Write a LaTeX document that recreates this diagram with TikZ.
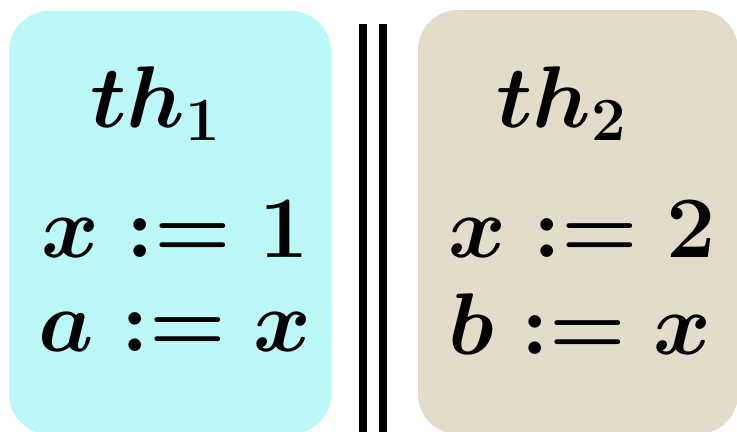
\RequirePackage{fix-cm}
\documentclass[tikz,border=0pt]{standalone}
\definecolor{boxcyan}{HTML}{BDF8F8}
\definecolor{boxbeige}{HTML}{E3DCCB}
\tikzset{
  panel/.style={rounded corners=40bp},
  sepline/.style={fill=black},
  code/.style={anchor=base west, inner sep=0pt, font=\fontsize{88}{100}\selectfont\boldmath}
}
\begin{document}
\begin{tikzpicture}[x=1bp,y=-1bp]
\useasboundingbox (0,0) rectangle (737,431);
\fill[boxcyan,panel] (9,11) rectangle (331,434);
\fill[boxbeige,panel] (418,10) rectangle (738,434);
\fill[sepline] (359,24) rectangle (367,432);
\fill[sepline] (379,24) rectangle (387,432);
\node[code] (t1) at (90,127) {$th_1$};
\node[code] (a1) at (41,257) {$x := 1$};
\node[code] (b1) at (38,351) {$a := x$};
\node[code] (t2) at (496,127) {$th_2$};
\node[code] (a2) at (448,257) {$x := 2$};
\node[code] (b2) at (448,354) {$b := x$};
\end{tikzpicture}
\end{document}
